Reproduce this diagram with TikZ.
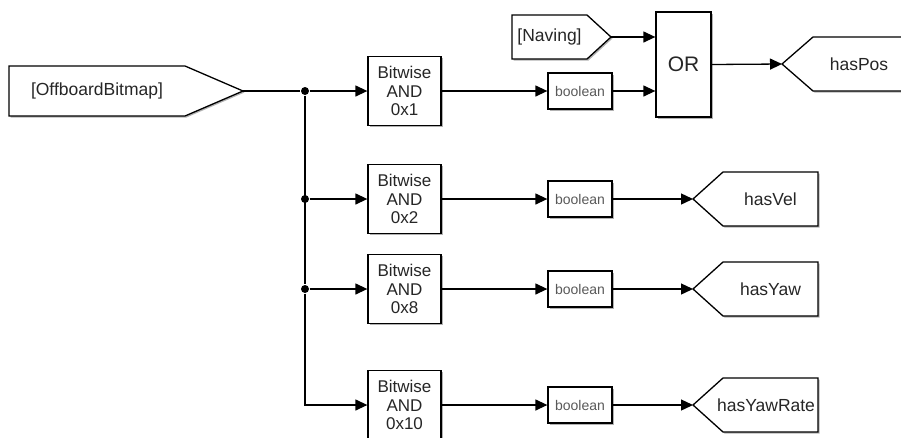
\documentclass[tikz,border=0pt]{standalone}
\usepackage{fontspec}
\setmainfont{Liberation Sans}
\usetikzlibrary{arrows.meta,shadows}

\begin{document}
\begin{tikzpicture}
             %% setup
             [
                 x=1pt, y=-1pt,
                 line width=1.3pt,
                 blockshadow/.style={drop shadow={shadow xshift=1.5pt, shadow yshift=-1.5pt, opacity=0.3, fill=black}},
                 andnode/.style={rectangle, draw, fill=white, blockshadow, minimum width=73pt, minimum height=69pt, inner sep=0pt, align=center, font=\fontsize{17}{18.3}\selectfont, text=black!85},
                 boolnode/.style={rectangle, draw, fill=white, blockshadow, minimum width=64pt, minimum height=36pt, inner sep=0pt, font=\fontsize{14}{16}\selectfont, text=black!65},
                 ornode/.style={rectangle, draw, fill=white, blockshadow, minimum width=55pt, minimum height=105pt, inner sep=0pt, font=\fontsize{21}{24}\selectfont, text=black!85},
                 tagshape/.style={draw, fill=white, blockshadow, line join=miter},
                 tagtext/.style={inner sep=0pt, font=\fontsize{17.5}{20}\selectfont, text=black!85},
                 junction/.style={circle, fill, inner sep=0pt, minimum size=8pt},
                 wire/.style={-{Triangle[length=12pt,width=11pt]}},
             ]
                 \useasboundingbox (0,0) rectangle (901,437);

                 %% Nodes
                 \draw[tagshape] (9,66) -- (185,66) -- (243,91) coordinate (offTip) -- (185,116) -- (9,116) -- cycle;
                 \node [tagtext] (offboard) at (97,91) {[OffboardBitmap]};

                 \draw[tagshape] (512,15) -- (587,15) -- (611,37) coordinate (navTip) -- (587,59) -- (512,59) -- cycle;
                 \node [tagtext] (naving) at (549.5,37) {[Naving]};

                 \node [junction] (j1) at (305,91) {};
                 \node [junction] (j2) at (305,199) {};
                 \node [junction] (j3) at (305,289) {};
                 \coordinate (j4) at (305,405);

                 \node [andnode] (and1) at (404.5,91) {Bitwise\\AND\\0x1};
                 \node [andnode] (and2) at (404.5,199) {Bitwise\\AND\\0x2};
                 \node [andnode] (and3) at (404.5,289) {Bitwise\\AND\\0x8};
                 \node [andnode] (and4) at (404.5,405) {Bitwise\\AND\\0x10};

                 \node [boolnode] (bool1) at (580,91) {boolean};
                 \node [boolnode] (bool2) at (580,199) {boolean};
                 \node [boolnode] (bool3) at (580,289) {boolean};
                 \node [boolnode] (bool4) at (580,405) {boolean};

                 \node [ornode] (or) at (683.5,64.5) {OR};

                 \draw[tagshape] (782,64) coordinate (posTip) -- (813,37) -- (905,37) -- (905,91) -- (813,91) -- cycle;
                 \node [tagtext] (hasPos) at (859,64) {hasPos};

                 \draw[tagshape] (693,199) coordinate (velTip) -- (723,172) -- (818,172) -- (818,226) -- (723,226) -- cycle;
                 \node [tagtext] (hasVel) at (770.5,199) {hasVel};

                 \draw[tagshape] (693,289) coordinate (yawTip) -- (723,262) -- (818,262) -- (818,316) -- (723,316) -- cycle;
                 \node [tagtext] (hasYaw) at (770.5,289) {hasYaw};

                 \draw[tagshape] (693,405) coordinate (rateTip) -- (723,378) -- (818,378) -- (818,432) -- (723,432) -- cycle;
                 \node [tagtext] (hasYawRate) at (766,405) {hasYawRate};

                 %% Lines
                 \draw (offTip) -- (j1);
                 \draw (j1) -- (j3);
                 \draw[wire] (j3) -- (j4) -- (and4.west);
                 \draw[wire] (j1) -- (and1.west);
                 \draw[wire] (j2) -- (and2.west);
                 \draw[wire] (j3) -- (and3.west);

                 \draw[wire] (and1.east) -- (bool1.west);
                 \draw[wire] (and2.east) -- (bool2.west);
                 \draw[wire] (and3.east) -- (bool3.west);
                 \draw[wire] (and4.east) -- (bool4.west);

                 \draw[wire] (navTip) -- (navTip -| or.west);
                 \draw[wire] (bool1.east) -- (bool1.east -| or.west);
                 \draw[wire] (or.east) -- (posTip);

                 \draw[wire] (bool2.east) -- (velTip);
                 \draw[wire] (bool3.east) -- (yawTip);
                 \draw[wire] (bool4.east) -- (rateTip);

\end{tikzpicture}
\end{document}
